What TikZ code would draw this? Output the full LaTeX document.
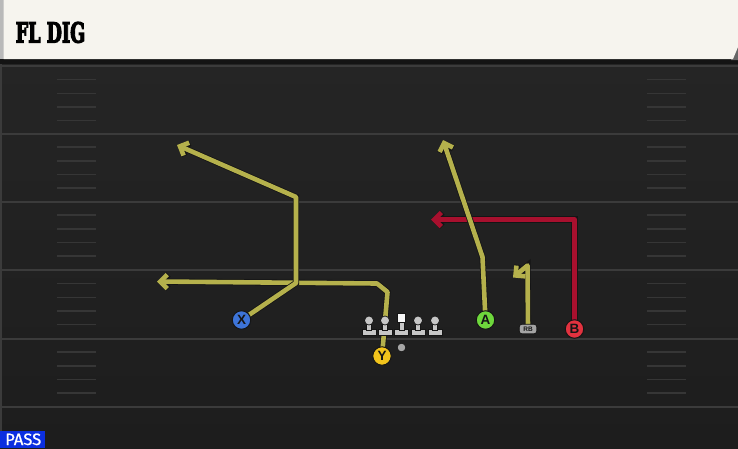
\documentclass[tikz,border=0pt]{standalone}
\usepackage{fontspec}
\usetikzlibrary{arrows.meta}
\newfontfamily\titlefont{DejaVu Serif}
\newfontfamily\labfont{Liberation Sans}
\newfontfamily\passfont{Fira Sans}[FakeBold=0.8]
\newcommand{\strokedtext}[1]{\special{pdf:literal 2 Tr 0.5 w}#1\special{pdf:literal 0 Tr}}
\definecolor{cream}{HTML}{F6F4EE}
\definecolor{fieldtop}{HTML}{252525}
\definecolor{fieldbot}{HTML}{1D1D1D}
\definecolor{yardline}{HTML}{3B3B3B}
\definecolor{hashcol}{HTML}{363636}
\definecolor{routeyel}{HTML}{B5B14C}
\definecolor{routered}{HTML}{A8102E}
\definecolor{pblue}{HTML}{3D74D8}
\definecolor{pyellow}{HTML}{F2C41C}
\definecolor{pgreen}{HTML}{6ED83C}
\definecolor{pred}{HTML}{E2323F}
\definecolor{rbgray}{HTML}{A4A4A4}
\definecolor{olgray}{HTML}{C6C6C6}
\definecolor{passblue}{HTML}{0B2FE0}
\definecolor{outl}{HTML}{151515}
\pgfdeclarelayer{fieldlayer}
\pgfdeclarelayer{routelayer}
\pgfsetlayers{fieldlayer,routelayer,main}
\begin{document}
\begin{tikzpicture}[x=1pt,y=-1pt,
  route/.style={line width=4.6pt, draw=routeyel, line join=round,
    preaction={draw=outl, line width=6.2pt}},
  redroute/.style={route, draw=routered},
  tipA/.style={-{Straight Barb[length=7pt,width=14pt]}},
  player/.style={circle, minimum size=18.5pt, inner sep=0pt, draw=outl,
    line width=1pt, text=outl, font=\labfont\bfseries\fontsize{13.5}{13.5}\selectfont},
  olm/.style={fill=olgray, draw=outl, line width=0.7pt},
  yardstyle/.style={draw=yardline, line width=2pt},
  hashstyle/.style={draw=hashcol, line width=1.6pt}]
\useasboundingbox (0,0) rectangle (738,448);
\begin{pgfonlayer}{fieldlayer}
  % field
  \shade[top color=fieldtop, bottom color=fieldbot] (0,59) rectangle (738,448);
  \fill[black!92] (0,59) rectangle (738,64);
  \draw[yardline, line width=2pt] (1,64) -- (1,448);
  \foreach \l in {66,133.5,201.5,270,338.5,407}
    \draw[yardstyle] (2,\l) -- (738,\l);
  \foreach \l in {66,133.5,201.5,270,338.5} {
    \foreach \k in {1,2,3,4} {
      \draw[hashstyle] (57,\l+\k*13.67) -- (96,\l+\k*13.67);
      \draw[hashstyle] (647,\l+\k*13.67) -- (686,\l+\k*13.67);
    }
  }
  % header
  \fill[gray!55] (0,0) rectangle (4,59);
  \fill[black!60] (733,46) -- (738,46) -- (738,60) -- (731,60) -- cycle;
  \fill[cream] (3.5,0) -- (738,0) -- (738,47) -- (733,59) -- (3.5,59) -- cycle;
  \node[anchor=base west, inner sep=0pt, text=black] (title) at (15.5,42.5)
    {\resizebox{69.5pt}{20.5pt}{\titlefont\bfseries\strokedtext{FL DIG}}};
  % pass tag
  \fill[passblue] (0,430.5) rectangle (45,448);
  \node[anchor=base west, inner sep=0pt, text=white] (pass) at (5,445)
    {\resizebox{36pt}{11.5pt}{\passfont PASS}};
\end{pgfonlayer}

% players
\node[player, fill=pblue] (X) at (241.5,320) {X};
\node[player, fill=pyellow] (Y) at (382,356) {Y};
\node[player, fill=pgreen] (A) at (485.5,320) {A};
\node[player, fill=pred] (B) at (574.5,329) {B};
\node[draw=outl, fill=rbgray, rounded corners=2.5pt, minimum width=17.5pt,
  minimum height=9.5pt, inner sep=0pt, line width=0.8pt,
  font=\labfont\bfseries\fontsize{6.5}{6.5}\selectfont, text=outl] (RB) at (528,329) {RB};
\node[circle, fill=gray!70, draw=outl, line width=0.6pt, minimum size=8.5pt,
  inner sep=0pt] (QB) at (401.5,347.5) {};

% offensive line
\foreach \x/\n in {369/l1,385/l2,418/l4,435/l5} {
  \fill[olm] (\x-7,329.5) rectangle (\x+7,335);
  \fill[olm] (\x-2.5,323) rectangle (\x+2.5,330);
  \node[circle, olm, minimum size=9pt, inner sep=0pt] (\n) at (\x,320.5) {};
}
\fill[olm] (394.5,329.5) rectangle (408.5,335);
\fill[olm] (399,321) rectangle (404,330);
\node[draw=outl, fill=white!94!gray, line width=0.7pt, minimum size=8.5pt,
  inner sep=0pt] (C) at (401.5,318) {};

% waypoints
\coordinate (xj) at (296,283);
\coordinate (xu) at (296,197);
\coordinate (xe) at (177,145);
\coordinate (y1) at (387.5,292);
\coordinate (y2) at (377,283.5);
\coordinate (ye) at (157,281.5);
\coordinate (a1) at (482.5,257);
\coordinate (ae) at (443,140);
\coordinate (r1) at (527.5,265.5);
\coordinate (re) at (513,277.5);
\coordinate (b1) at (574.5,219.5);
\coordinate (be) at (431,219.5);

\begin{pgfonlayer}{routelayer}
  \draw[route, tipA] (Y.center) -- (y1) -- (y2) -- (ye);
  \draw[route, tipA] (X.center) -- (xj) -- (xu) -- (xe);
  \draw[route, tipA] (RB.center) -- (r1) -- (re);
  \draw[redroute, tipA] (B.center) -- (b1) -- (be);
  \draw[route, tipA] (A.center) -- (a1) -- (ae);
\end{pgfonlayer}
\end{tikzpicture}
\end{document}
